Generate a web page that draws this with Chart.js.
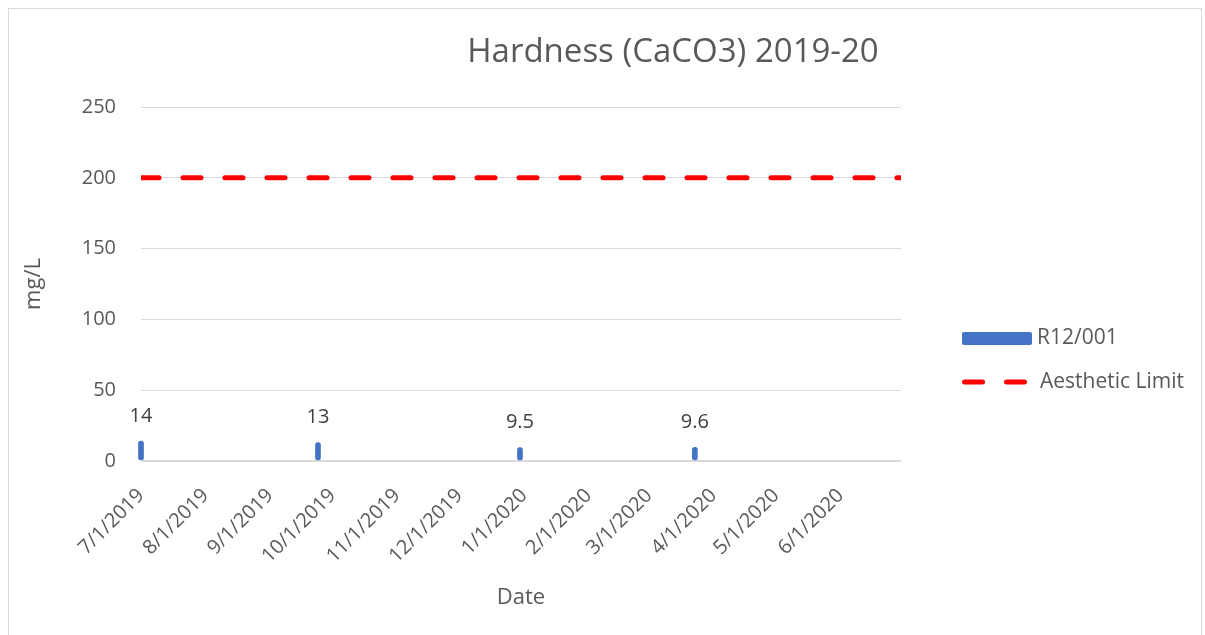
<!DOCTYPE html>
<html>
<head>
<meta charset="utf-8">
<title>Hardness (CaCO3) 2019-20</title>
<script src="https://cdn.jsdelivr.net/npm/chart.js@4.4.1/dist/chart.umd.min.js"></script>
<style>
    body { margin: 0; background: #fff; }
    #wrap { position: relative; width: 1205px; height: 635px; overflow: hidden; }
    #frame { position: absolute; left: 8px; top: 8px; width: 1192px; height: 640px; border: 1px solid #d9d9d9; }
    #chart { position: absolute; left: 0; top: 0; }
</style>
</head>
<body>
<div id="wrap">
    <div id="frame"></div>
    <canvas id="chart" width="1205" height="635"></canvas>
</div>
<script>
// chart data
const sampleDates = ['7/1/2019', '9/24/2019', '12/30/2019', '3/23/2020'];
const hardness = [14, 13, 9.5, 9.6];
const limitDates = ['7/1/2019', '6/30/2020'];
const limitValues = [200, 200];
const tickLabels = ['7/1/2019', '8/1/2019', '9/1/2019', '10/1/2019', '11/1/2019', '12/1/2019',
    '1/1/2020', '2/1/2020', '3/1/2020', '4/1/2020', '5/1/2020', '6/1/2020'];
const yTicks = [0, 50, 100, 150, 200, 250];

const FONT = "'Open Sans', 'Noto Sans', sans-serif";
const GREY = '#595959';

// days since 7/1/2019, so the x axis can stay a plain linear scale
function dayNum(s) {
    const [m, d, y] = s.split('/').map(Number);
    return Math.round((Date.UTC(y, m - 1, d) - Date.UTC(2019, 6, 1)) / 86400000);
}

const titlePlugin = {
    id: 'excelTitle',
    afterDraw(chart) {
        const ctx = chart.ctx;
        ctx.save();
        ctx.font = '33px ' + FONT;
        ctx.fillStyle = GREY;
        ctx.textAlign = 'center';
        ctx.textBaseline = 'middle';
        ctx.fillText('Hardness (CaCO3) 2019-20', 673, 53);
        ctx.restore();
    }
};

const valueLabels = {
    id: 'valueLabels',
    afterDatasetsDraw(chart) {
        const ctx = chart.ctx;
        const meta = chart.getDatasetMeta(0);
        ctx.save();
        ctx.font = '20px ' + FONT;
        ctx.fillStyle = '#404040';
        ctx.textAlign = 'center';
        ctx.textBaseline = 'middle';
        meta.data.forEach((bar, i) => {
            ctx.fillText(String(hardness[i]), bar.x, bar.y - 25);
        });
        ctx.restore();
    }
};

const sideLegend = {
    id: 'sideLegend',
    afterDraw(chart) {
        const ctx = chart.ctx;
        const bars = chart.data.datasets[0];
        const limit = chart.data.datasets[1];
        ctx.save();
        ctx.font = '21px ' + FONT;
        ctx.textBaseline = 'middle';

        ctx.fillStyle = bars.backgroundColor;
        ctx.beginPath();
        ctx.roundRect(962, 332, 70, 13, 2);
        ctx.fill();
        ctx.fillStyle = GREY;
        ctx.fillText(bars.label, 1037, 338);

        ctx.strokeStyle = limit.borderColor;
        ctx.lineWidth = limit.borderWidth;
        ctx.lineCap = 'round';
        ctx.setLineDash(limit.borderDash);
        ctx.beginPath();
        ctx.moveTo(964.5, 382);
        ctx.lineTo(1025, 382);
        ctx.stroke();
        ctx.setLineDash([]);
        ctx.fillText(limit.label, 1040, 382);
        ctx.restore();
    }
};

const ctx = document.getElementById('chart').getContext('2d');
new Chart(ctx, {
    type: 'bar',
    data: {
        datasets: [
            {
                label: 'R12/001',
                data: sampleDates.map((d, i) => ({ x: dayNum(d), y: hardness[i] })),
                backgroundColor: '#4472C4',
                barThickness: 5,
                borderRadius: 3,
                borderSkipped: false,
                clip: 6,
                order: 2
            },
            {
                type: 'line',
                label: 'Aesthetic Limit',
                data: limitDates.map((d, i) => ({ x: dayNum(d), y: limitValues[i] })),
                borderColor: '#FF0000',
                borderWidth: 5,
                borderDash: [18, 24],
                borderCapStyle: 'round',
                pointRadius: 0,
                fill: false,
                order: 1
            }
        ]
    },
    options: {
        responsive: false,
        animation: false,
        devicePixelRatio: 1,
        layout: { padding: { left: 17, right: 304, top: 107, bottom: 20 } },
        plugins: {
            legend: { display: false },
            title: { display: false },
            tooltip: { enabled: false }
        },
        scales: {
            x: {
                type: 'linear',
                offset: false,
                min: dayNum(limitDates[0]),
                max: dayNum(limitDates[1]),
                afterBuildTicks: scale => {
                    scale.ticks = tickLabels.map(l => ({ value: dayNum(l) }));
                },
                afterFit: scale => { scale.height = 154; },
                grid: { display: false, offset: false },
                border: { display: false },
                ticks: {
                    autoSkip: false,
                    maxRotation: 45,
                    minRotation: 45,
                    padding: 15,
                    color: GREY,
                    font: { family: FONT, size: 20 },
                    callback: value => tickLabels.find(l => dayNum(l) === value) || ''
                },
                title: {
                    display: true,
                    text: 'Date',
                    color: GREY,
                    font: { family: FONT, size: 22 }
                }
            },
            y: {
                min: yTicks[0],
                max: yTicks[yTicks.length - 1],
                afterBuildTicks: scale => {
                    scale.ticks = yTicks.map(v => ({ value: v }));
                },
                afterFit: scale => { scale.width = 124; },
                grid: {
                    color: '#d9d9d9',
                    lineWidth: c => (c.tick && c.tick.value === 0 ? 2 : 1),
                    drawTicks: false
                },
                border: { display: false },
                ticks: {
                    padding: 25,
                    color: GREY,
                    font: { family: FONT, size: 20 }
                },
                title: {
                    display: true,
                    text: 'mg/L',
                    color: GREY,
                    font: { family: FONT, size: 22 }
                }
            }
        }
    },
    plugins: [titlePlugin, valueLabels, sideLegend]
});
</script>
</body>
</html>
